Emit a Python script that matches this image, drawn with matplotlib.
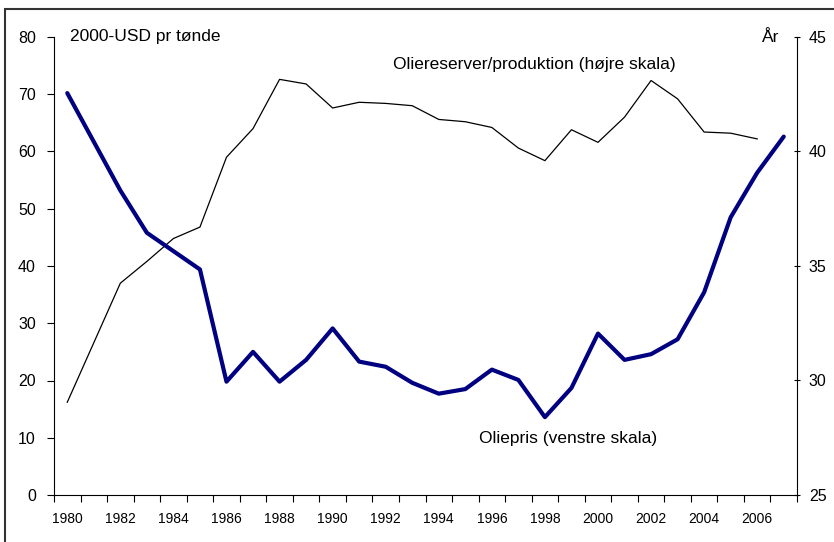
import matplotlib
matplotlib.use("Agg")
import matplotlib.pyplot as plt
import numpy as np
from matplotlib.patches import Rectangle

plt.rcParams['font.family'] = ['Liberation Sans', 'DejaVu Sans']

years = list(range(1980, 2008))
oil_price = [70.2, 61.7, 53.2, 45.8, 42.6, 39.4, 19.8, 25.0, 19.8, 23.6,
             29.1, 23.3, 22.4, 19.6, 17.7, 18.5, 21.9, 20.1, 13.6, 18.7,
             28.2, 23.6, 24.6, 27.2, 35.4, 48.5, 56.3, 62.6]
reserves_prod = [29.05, 31.65, 34.25, 35.2, 36.2, 36.7, 39.75, 41.0, 43.15, 42.95,
                 41.9, 42.15, 42.1, 42.0, 41.4, 41.3, 41.05, 40.15, 39.6, 40.95,
                 40.4, 41.5, 43.1, 42.3, 40.85, 40.8, 40.55, np.nan]
year_labels = [str(y) if y % 2 == 0 else "" for y in years]

W, H = 834, 542
fig = plt.figure(figsize=(W / 100, H / 100), dpi=100)
ax = fig.add_axes([54 / W, 1 - 495 / H, (797 - 54) / W, (495 - 37) / H])
ax2 = ax.twinx()

x = np.arange(len(years))
ax.plot(x, oil_price, color='#000080', lw=3.0, solid_joinstyle='round',
        solid_capstyle='round', zorder=3)
ax2.plot(x, reserves_prod, color='black', lw=0.9, zorder=2)

ax.set_xlim(-0.5, len(years) - 0.5)
ax.set_ylim(0, 80)
ax2.set_ylim(25, 45)
ax.set_yticks(range(0, 81, 10))
ax2.set_yticks(range(25, 46, 5))

ax.set_xticks(x)
ax.set_xticklabels(year_labels, fontsize=10)
ax.set_xticks(np.arange(-0.5, len(years), 1.0), minor=True)
ax.tick_params(axis='x', which='major', length=0, pad=12)
ax.tick_params(axis='x', which='minor', length=5, direction='out', width=0.8)
ax.tick_params(axis='y', which='major', length=5, direction='out', width=0.8,
               labelsize=11.5, pad=8)
ax2.tick_params(axis='y', which='major', length=5, direction='inout', width=0.8,
                labelsize=11.5, pad=6)

for a in (ax, ax2):
    a.spines['top'].set_visible(False)
    for s in a.spines.values():
        s.set_linewidth(0.8)
ax.spines['right'].set_visible(False)
ax2.spines['left'].set_visible(False)
ax2.spines['bottom'].set_visible(False)

ax.set_zorder(ax2.get_zorder() + 1)
ax.patch.set_visible(False)

fs = 12.5
fig.text(70 / W, 1 - 37 / H, "2000-USD pr tønde", fontsize=fs, va='center', ha='left')
fig.text(779 / W, 1 - 37 / H, "År", fontsize=fs, va='center', ha='right')
fig.text(393 / W, 1 - 64 / H, "Oliereserver/produktion (højre skala)",
         fontsize=fs, va='center', ha='left')
fig.text(479 / W, 1 - 438 / H, "Oliepris (venstre skala)", fontsize=fs, va='center', ha='left')

fig.patches.append(Rectangle((5 / W, -0.1), 1.2, (1 - 9 / H) + 0.1, transform=fig.transFigure,
                             fill=False, edgecolor='#333333', lw=1.5))

fig.savefig("out.png", dpi=100)
